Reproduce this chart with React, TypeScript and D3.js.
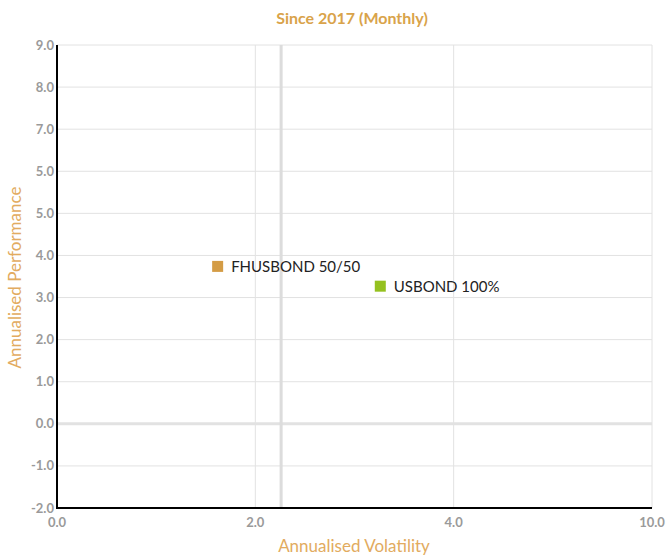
import React from 'react';
import * as d3 from 'd3';

const names = ['FHUSBOND 50/50', 'USBOND 100%'];
const volatility = [1.62, 3.26];
const performance = [3.74, 3.27];
const colors = ['#d49c45', '#95c11f'];

const xTicks = [0, 2, 4, 10];
const xTickLabels = ['0.0', '2.0', '4.0', '10.0'];
const yTicks = [-2, -1, 0, 1, 2, 3, 4, 5, 6, 7, 8, 9];
const yTickLabels = ['-2.0', '-1.0', '0.0', '1.0', '2.0', '3.0', '4.0', '5.0', '5.0', '7.0', '8.0', '9.0'];
const refVolatility = 2.26;

const width = 667;
const height = 557;
const margin = { top: 45, right: 15, bottom: 49, left: 57 };
const font = 'Lato, "Open Sans", sans-serif';

const App = () => {
  const innerRight = width - margin.right;
  const innerBottom = height - margin.bottom;

  // the axis labels are evenly spaced, so the x scale is piecewise
  const xScale = d3
    .scaleLinear()
    .domain(xTicks)
    .range(xTicks.map((_, i) => margin.left + (i * (innerRight - margin.left)) / (xTicks.length - 1)));

  const yScale = d3.scaleLinear().domain([-2, 9]).range([innerBottom, margin.top]);

  return (
    <svg width={width} height={height} style={{ position: 'absolute', left: 0, top: 0 }} fontFamily={font}>
      <rect width={width} height={height} fill="#fff" />
      <text x={352} y={24} textAnchor="middle" fontSize={16} fontWeight={700} fill="#d9a34a">
        Since 2017 (Monthly)
      </text>

      {yTicks.map(t => (
        <line key={'gy' + t} x1={margin.left} x2={innerRight} y1={yScale(t)} y2={yScale(t)}
          stroke="#e2e2e2" strokeWidth={t === 0 ? 3 : 1} />
      ))}
      {xTicks.slice(1).map(t => (
        <line key={'gx' + t} x1={xScale(t)} x2={xScale(t)} y1={margin.top} y2={innerBottom}
          stroke="#e2e2e2" strokeWidth={1} />
      ))}
      <line x1={xScale(refVolatility)} x2={xScale(refVolatility)} y1={margin.top} y2={innerBottom}
        stroke="#dcdcdc" strokeWidth={3} />

      <line x1={margin.left} x2={margin.left} y1={margin.top} y2={innerBottom + 1} stroke="#000" strokeWidth={2} />
      <line x1={margin.left} x2={innerRight} y1={innerBottom} y2={innerBottom} stroke="#000" strokeWidth={2} />

      {yTicks.map((t, i) => (
        <text key={'ly' + t} x={margin.left - 3} y={yScale(t) + 4.5} textAnchor="end" fontSize={13}
          fontWeight={700} fill="#9a9a9a">
          {yTickLabels[i]}
        </text>
      ))}
      {xTicks.map((t, i) => (
        <text key={'lx' + t} x={xScale(t)} y={527} textAnchor="middle" fontSize={13} fontWeight={700} fill="#9a9a9a">
          {xTickLabels[i]}
        </text>
      ))}

      <text x={354} y={552} textAnchor="middle" fontSize={17} fill="#e2ab60">
        Annualised Volatility
      </text>
      <text transform={`translate(21, ${(margin.top + innerBottom) / 2 + 1}) rotate(-90)`} textAnchor="middle"
        fontSize={17} fill="#e2ab60">
        Annualised Performance
      </text>

      {names.map((n, i) => {
        const cx = xScale(volatility[i]);
        const cy = yScale(performance[i]);
        return (
          <g key={n}>
            <rect x={cx - 5.5} y={cy - 5.5} width={11} height={11} fill={colors[i]} />
            <text x={cx + 13.5} y={cy + 5.5} fontSize={15} fill="#222">
              {n}
            </text>
          </g>
        );
      })}
    </svg>
  );
};

export default App;
